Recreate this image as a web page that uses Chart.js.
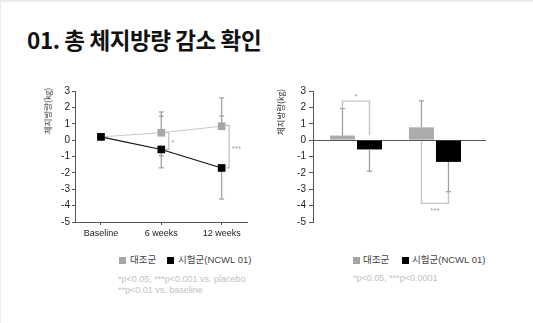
<!DOCTYPE html>
<html><head><meta charset="utf-8">
<script src="https://cdn.jsdelivr.net/npm/chart.js@4"></script>
<style>
html,body{margin:0;padding:0;background:#fff;}
body{width:533px;height:323px;position:relative;overflow:hidden;font-family:"Liberation Sans","Noto Sans CJK KR",sans-serif;}
#frame{position:absolute;left:0;top:0;width:533px;height:323px;border-top:2px solid #ececec;border-left:1px solid #ececec;box-sizing:border-box;pointer-events:none;}
#title{position:absolute;left:27px;top:26px;font-family:"Noto Sans CJK KR",sans-serif;font-weight:700;font-size:22.5px;line-height:26px;letter-spacing:-0.4px;color:#111;white-space:nowrap;}
canvas{position:absolute;}
#c1{left:0;top:80px;}
#c2{left:260px;top:80px;}
.ytitle{position:absolute;font-size:8.5px;color:#333;white-space:nowrap;transform:translate(-50%,-50%) rotate(-90deg);font-family:"Noto Sans CJK KR",sans-serif;line-height:10px;}
.leg{position:absolute;font-size:9.5px;color:#444;white-space:nowrap;line-height:12px;}
.sq{position:absolute;width:7px;height:7px;}
.note{position:absolute;font-size:9px;color:#c2c2c2;white-space:nowrap;line-height:11px;}
</style></head>
<body>
<div id="title">01. 총 체지방량 감소 확인</div>
<canvas id="c1" width="260" height="170"></canvas>
<canvas id="c2" width="273" height="170"></canvas>
<div class="ytitle" style="left:47px;top:111px;">체지방량(kg)</div>
<div class="ytitle" style="left:280px;top:112px;">체지방량(kg)</div>

<div class="sq" style="left:119px;top:257px;background:#a6a6a6;"></div>
<div class="leg" id="l1a" style="left:130px;top:254px;"></div>
<div class="sq" style="left:167px;top:257px;background:#000;"></div>
<div class="leg" id="l1b" style="left:178px;top:254px;"></div>
<div class="note" style="left:118px;top:274px;">*p&lt;0.05, ***p&lt;0.001 vs. placebo</div>
<div class="note" style="left:118px;top:285px;">**p&lt;0.01 vs. baseline</div>

<div class="sq" style="left:353px;top:257px;background:#a6a6a6;"></div>
<div class="leg" id="l2a" style="left:363px;top:254px;"></div>
<div class="sq" style="left:402px;top:257px;background:#000;"></div>
<div class="leg" id="l2b" style="left:412px;top:254px;"></div>
<div class="note" style="left:353px;top:273px;">*p&lt;0.05, ***p&lt;0.0001</div>
<div id="frame"></div>
<script>
// ---- data ----
const seriesNames = ['대조군', '시험군(NCWL 01)'];
const categories = ['Baseline', '6 weeks', '12 weeks'];
const controlLine = [0.2, 0.45, 0.85];
const testLine = [0.2, -0.57, -1.7];
const controlLineErrOuter = [null, 1.72, 2.58];
const controlLineErrInner = [null, 1.46, 1.48];
const testLineErrOuter = [null, -1.69, -3.6];
const testLineErrInner = [null, -0.95, null];
const lineSigIndex = [1, 2];
const lineSigTop = [0.45, 0.9];
const lineSigBottom = [-0.57, -1.7];
const lineSigLabel = ['*', '***'];

const barGroups = ['6 weeks', '12 weeks'];
const controlBar = [0.28, 0.78];
const testBar = [-0.57, -1.33];
const controlBarErr = [1.93, 2.4];
const testBarErr = [-1.9, -3.15];
const barSigLevel = [2.38, -3.86];
const barSigLeftEnd = [1.93, -0.1];
const barSigRightEnd = [0.3, -3.15];
const barSigLabel = ['*', '***'];

const yMin = -5, yMax = 3, yStep = 1;

document.getElementById('l1a').textContent = seriesNames[0];
document.getElementById('l1b').textContent = seriesNames[1];
document.getElementById('l2a').textContent = seriesNames[0];
document.getElementById('l2b').textContent = seriesNames[1];

const FONT = '"Liberation Sans", Arial, sans-serif';
const AX = '#555';

const lineExtras = {
  id: 'lineExtras',
  beforeDatasetsDraw(chart) {
    const {ctx, scales: {x, y}} = chart;
    ctx.save();
    ctx.strokeStyle = '#a3a3a3';
    ctx.lineWidth = 1.3;
    const drawErr = (i, from, outer, inner) => {
      if (outer == null) return;
      const px = x.getPixelForValue(i);
      ctx.beginPath();
      ctx.moveTo(px, y.getPixelForValue(from));
      ctx.lineTo(px, y.getPixelForValue(outer));
      ctx.stroke();
      [outer, inner].forEach(v => {
        if (v == null) return;
        const py = y.getPixelForValue(v);
        ctx.beginPath(); ctx.moveTo(px - 2.5, py); ctx.lineTo(px + 2.5, py); ctx.stroke();
      });
    };
    categories.forEach((c, i) => {
      drawErr(i, controlLine[i], controlLineErrOuter[i], controlLineErrInner[i]);
      drawErr(i, testLine[i], testLineErrOuter[i], testLineErrInner[i]);
    });
    ctx.restore();
  },
  afterDatasetsDraw(chart) {
    const {ctx, scales: {x, y}} = chart;
    ctx.save();
    ctx.strokeStyle = '#bdbdbd';
    ctx.lineWidth = 1.2;
    ctx.fillStyle = '#9a9a9a';
    ctx.font = '8px ' + FONT;
    ctx.textBaseline = 'middle';
    ctx.textAlign = 'left';
    lineSigIndex.forEach((idx, k) => {
      const px = x.getPixelForValue(idx);
      const bx = px + 7.5;
      const t = y.getPixelForValue(lineSigTop[k]);
      const b = y.getPixelForValue(lineSigBottom[k]);
      ctx.beginPath();
      ctx.moveTo(bx - 3.5, t); ctx.lineTo(bx, t); ctx.lineTo(bx, b); ctx.lineTo(bx - 3.5, b);
      ctx.stroke();
      ctx.fillText(lineSigLabel[k], bx + 2.5, (t + b) / 2 + 2);
    });
    ctx.restore();
  }
};

new Chart(document.getElementById('c1'), {
  type: 'line',
  data: {
    datasets: [
      { label: seriesNames[0], data: controlLine.map((v, i) => ({x: i, y: v})),
        borderColor: '#c9c9c9', borderWidth: 1, backgroundColor: '#a6a6a6',
        pointStyle: 'rect', pointRadius: 5.4, pointBorderWidth: 0, pointBackgroundColor: '#a6a6a6', order: 1 },
      { label: seriesNames[1], data: testLine.map((v, i) => ({x: i, y: v})),
        borderColor: '#111', borderWidth: 1.2, backgroundColor: '#000',
        pointStyle: 'rect', pointRadius: 5.4, pointBorderWidth: 0, pointBackgroundColor: '#000', order: 0 }
    ]
  },
  options: {
    responsive: false, animation: false, devicePixelRatio: 1,
    layout: { padding: { top: 11, right: 13, bottom: 0, left: 0 } },
    plugins: { legend: { display: false }, tooltip: { enabled: false } },
    scales: {
      x: {
        type: 'linear', min: -0.43, max: 2.42, offset: false,
        afterBuildTicks(s) { s.ticks = categories.map((c, i) => ({value: i})); },
        afterFit(s) { s.height = 28; },
        ticks: { autoSkip: false, maxRotation: 0, padding: 3, color: '#222', font: { family: FONT, size: 9 },
                 callback: (v, i) => categories[i] },
        grid: { drawOnChartArea: false, tickLength: 3, tickColor: AX },
        border: { color: AX, width: 1 }
      },
      y: {
        min: yMin, max: yMax,
        afterFit(s) { s.width = 75; },
        ticks: { stepSize: yStep, padding: 2, color: '#222', font: { family: FONT, size: 10 } },
        grid: { drawOnChartArea: false, tickLength: 3, tickColor: AX },
        border: { color: AX, width: 1 }
      }
    }
  },
  plugins: [lineExtras]
});

const barExtras = {
  id: 'barExtras',
  afterDatasetsDraw(chart) {
    const {ctx, scales: {y}} = chart;
    const m0 = chart.getDatasetMeta(0).data;
    const m1 = chart.getDatasetMeta(1).data;
    ctx.save();
    ctx.strokeStyle = '#a0a0a0';
    ctx.lineWidth = 1.3;
    const drawErr = (px, from, to) => {
      const py = y.getPixelForValue(to);
      ctx.beginPath(); ctx.moveTo(px, y.getPixelForValue(from)); ctx.lineTo(px, py); ctx.stroke();
      ctx.beginPath(); ctx.moveTo(px - 2.5, py); ctx.lineTo(px + 2.5, py); ctx.stroke();
    };
    barGroups.forEach((g, i) => {
      drawErr(m0[i].x, controlBar[i], controlBarErr[i]);
      drawErr(m1[i].x, testBar[i], testBarErr[i]);
    });
    ctx.strokeStyle = '#c6c6c6';
    ctx.lineWidth = 1.4;
    ctx.fillStyle = '#9a9a9a';
    ctx.font = '8px ' + FONT;
    ctx.textAlign = 'center';
    ctx.textBaseline = 'middle';
    barGroups.forEach((g, i) => {
      const x1 = m0[i].x, x2 = m1[i].x;
      const h = y.getPixelForValue(barSigLevel[i]);
      ctx.beginPath();
      ctx.moveTo(x1, y.getPixelForValue(barSigLeftEnd[i]));
      ctx.lineTo(x1, h); ctx.lineTo(x2, h);
      ctx.lineTo(x2, y.getPixelForValue(barSigRightEnd[i]));
      ctx.stroke();
      const above = barSigLevel[i] > 0;
      ctx.fillText(barSigLabel[i], (x1 + x2) / 2, h + (above ? -4 : 7));
    });
    ctx.restore();
  }
};

new Chart(document.getElementById('c2'), {
  type: 'bar',
  data: {
    datasets: [
      { label: seriesNames[0], data: controlBar.map((v, i) => ({x: i, y: v})), backgroundColor: '#ababab' },
      { label: seriesNames[1], data: testBar.map((v, i) => ({x: i, y: v})), backgroundColor: '#000' }
    ]
  },
  options: {
    responsive: false, animation: false, devicePixelRatio: 1,
    datasets: { bar: { categoryPercentage: 0.684, barPercentage: 0.926 } },
    layout: { padding: { top: 11, right: 47, bottom: 28, left: 0 } },
    plugins: { legend: { display: false }, tooltip: { enabled: false } },
    scales: {
      x: {
        type: 'linear', min: -0.544, max: 1.646, offset: false, display: false,
        afterBuildTicks(s) { s.ticks = barGroups.map((c, i) => ({value: i})); }
      },
      y: {
        min: yMin, max: yMax,
        afterFit(s) { s.width = 53; },
        ticks: { stepSize: yStep, padding: 3, color: '#222', font: { family: FONT, size: 10 } },
        grid: { drawOnChartArea: true, tickLength: 4, tickColor: AX,
                color: c => (c.tick && c.tick.value === 0) ? AX : 'rgba(0,0,0,0)', lineWidth: 1 },
        border: { color: AX, width: 1 }
      }
    }
  },
  plugins: [barExtras]
});
</script>
</body></html>
